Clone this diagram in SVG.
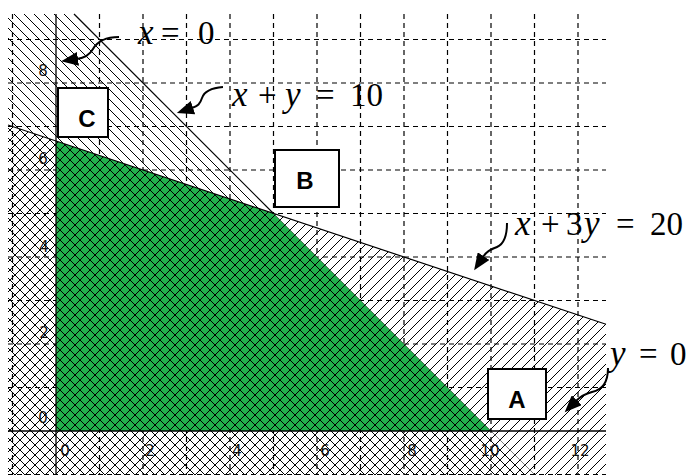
<svg xmlns="http://www.w3.org/2000/svg" width="689" height="475" viewBox="0 0 689 475">
<style>
.grid{stroke:#000;stroke-width:1.2;stroke-dasharray:5 4;fill:none}
.axis{stroke:#000;stroke-width:1.3;fill:none}
.bound{stroke:#000;stroke-width:1.2;fill:none}
.tick{font-family:"DejaVu Sans",sans-serif;font-size:15px;fill:#111;text-anchor:middle}
.box{fill:#fff;stroke:#000;stroke-width:2}
.blabel{font-family:"Liberation Sans",Arial,sans-serif;font-weight:bold;font-size:24px;fill:#000;text-anchor:middle}
.math{font-family:"Liberation Serif","Times New Roman",serif;font-size:33px;fill:#000}
.it{font-style:italic;font-size:35px}
.arrow{fill:none;stroke:#000;stroke-width:2;marker-end:url(#head)}
</style>
<defs>
<pattern id="hb" width="10" height="10" patternUnits="userSpaceOnUse"><path d="M-1,-1 L11,11 M-1,9 L1,11 M9,-1 L11,1" stroke="#000" stroke-width="1" shape-rendering="crispEdges"/></pattern>
<pattern id="hf" width="10" height="10" patternUnits="userSpaceOnUse"><path d="M-1,11 L11,-1 M-1,1 L1,-1 M9,11 L11,9" stroke="#000" stroke-width="1" shape-rendering="crispEdges"/></pattern>
<clipPath id="cA"><polygon points="8,14 74,14 535,475 8,475"/></clipPath>
<clipPath id="cB"><polygon points="8,125 606,324.3 606,475 8,475"/></clipPath>
<marker id="head" markerUnits="userSpaceOnUse" markerWidth="18" markerHeight="14" refX="1" refY="7" orient="auto"><path d="M0,0 L17,7 L0,14 Z" fill="#000"/></marker>
</defs>
<rect width="689" height="475" fill="#fff"/>
<g id="grid">
<path class="grid" d="M12.5,14V475M99.5,14V475M143,14V475M186.5,14V475M230,14V475M273.5,14V475M317,14V475M360.5,14V475M404,14V475M447.5,14V475M491,14V475M534.5,14V475M578,14V475"/>
<path class="grid" d="M8,474.5H606M8,387.5H606M8,344H606M8,300.5H606M8,257H606M8,213.5H606M8,170H606M8,126.5H606M8,83H606M8,39.5H606"/>
</g>
<g id="feasible">
<polygon points="56,431 491,431 273.5,213.5 56,141" fill="#22B14C"/>
</g>
<g id="hatching">
<rect x="8" y="14" width="598" height="461" fill="url(#hb)" clip-path="url(#cA)"/>
<rect x="8" y="14" width="598" height="461" fill="url(#hf)" clip-path="url(#cB)"/>
</g>
<g id="lines">
<line class="bound" x1="8" y1="125" x2="606" y2="324.3"/>
<line class="bound" x1="74" y1="14" x2="273.5" y2="213.5"/>
<line class="axis" x1="56" y1="14" x2="56" y2="475"/>
<line class="axis" x1="8" y1="431" x2="606" y2="431"/>
</g>
<g id="ticks">
<text class="tick" x="43" y="76">8</text>
<text class="tick" x="43" y="164">6</text>
<text class="tick" x="44" y="252">4</text>
<text class="tick" x="44" y="338">2</text>
<text class="tick" x="43" y="423">0</text>
<text class="tick" x="65" y="456">0</text>
<text class="tick" x="150" y="456">2</text>
<text class="tick" x="237" y="456">4</text>
<text class="tick" x="325" y="456">6</text>
<text class="tick" x="412" y="456">8</text>
<text class="tick" x="490" y="456">10</text>
<text class="tick" x="580" y="456">12</text>
</g>
<g id="nodeC"><rect class="box" x="58" y="88" width="50" height="49"/><text class="blabel" x="87" y="127">C</text></g>
<g id="nodeB"><rect class="box" x="275" y="150" width="64" height="57"/><text class="blabel" x="305" y="189">B</text></g>
<g id="nodeA"><rect class="box" x="488" y="369" width="58" height="50"/><text class="blabel" x="517" y="408">A</text></g>
<g id="label-x0"><text class="math" y="44"><tspan class="it" x="138">x</tspan><tspan x="161">=</tspan><tspan x="198">0</tspan></text></g>
<g id="label-xy10"><text class="math" y="106"><tspan class="it" x="232">x</tspan><tspan x="258">+</tspan><tspan class="it" x="285">y</tspan><tspan x="316">=</tspan><tspan x="350">10</tspan></text></g>
<g id="label-x3y20"><text class="math" y="235"><tspan class="it" x="515">x</tspan><tspan x="541">+</tspan><tspan x="566">3</tspan><tspan class="it" x="584">y</tspan><tspan x="616">=</tspan><tspan x="650">20</tspan></text></g>
<g id="label-y0"><text class="math" y="365"><tspan class="it" x="610">y</tspan><tspan x="639">=</tspan><tspan x="670">0</tspan></text></g>
<g id="connectors">
<path class="arrow" d="M119,37 C104,37 97,42 93,49 C89,56 84,58 77,59"/>
<path class="arrow" d="M223,87 C210,88 204,92 202,98 C200,104 198,106 192,108"/>
<path class="arrow" d="M507,223 C507,235 504,244 497,247 C490,250 487,251 483,257"/>
<path class="arrow" d="M608,368 C608,382 602,390 592,392 C584,394 580,397 576,401"/>
</g>
</svg>
